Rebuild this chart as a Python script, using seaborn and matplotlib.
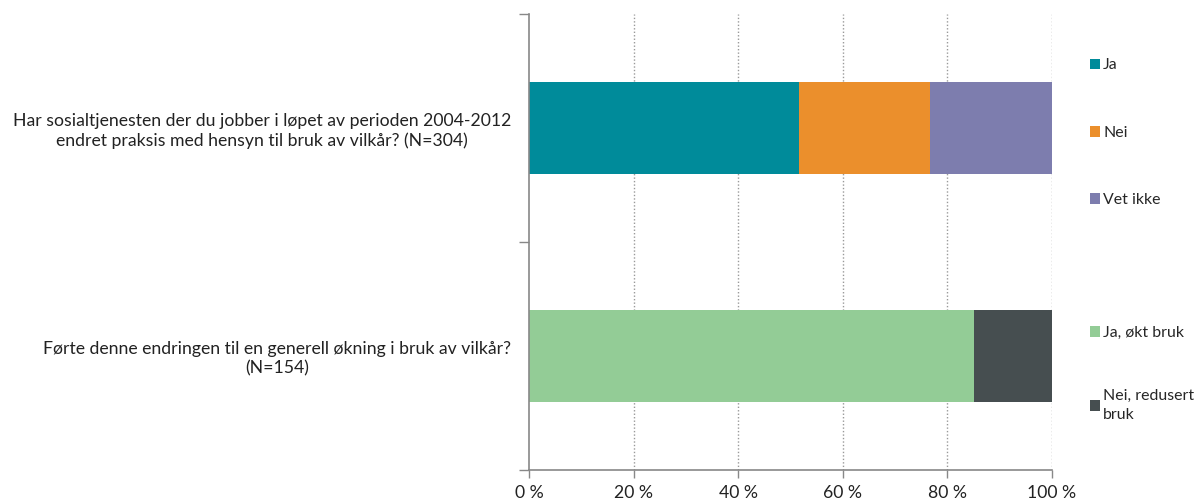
import matplotlib
matplotlib.use("Agg")
import matplotlib.pyplot as plt
import seaborn as sns
import numpy as np
from matplotlib.patches import Patch
from matplotlib.ticker import FixedLocator

questions = [
    "Har sosialtjenesten der du jobber i løpet av perioden 2004-2012\nendret praksis med hensyn til bruk av vilkår? (N=304)",
    "Førte denne endringen til en generell økning i bruk av vilkår?\n(N=154)",
]
q1_series = ["Ja", "Nei", "Vet ikke"]
q1_values = [51.7, 25.0, 23.3]
q1_colors = ["#008B9A", "#EB8F2C", "#7D7DAE"]
q2_series = ["Ja, økt bruk", "Nei, redusert\nbruk"]
q2_values = [85.1, 14.9]
q2_colors = ["#93CC96", "#464E50"]
x_ticks = [0, 20, 40, 60, 80, 100]
x_ticklabels = ["0 %", "20 %", "40 %", "60 %", "80 %", "100 %"]

sns.set_theme(style="white")
plt.rcParams['font.family'] = ['Lato', 'DejaVu Sans']
FS = 12.7
LFS = 11.4

fig = plt.figure(figsize=(11.96, 5.04), dpi=100)
ax = fig.add_axes([0.4423, 0.0675, 0.4373, 0.9047])

def draw_stack(qi, values, colors):
    cum = np.cumsum(values)
    for v, c in reversed(list(zip(cum, colors))):
        sns.barplot(x=[v], y=[questions[qi]], order=questions, color=c,
                    width=0.4, orient="h", ax=ax, saturation=1,
                    edgecolor="none", linewidth=0)

draw_stack(0, q1_values, q1_colors)
draw_stack(1, q2_values, q2_colors)

ax.set_xlim(0, 100)
ax.set_ylim(1.5, -0.5)
ax.set_xlabel("")
ax.set_ylabel("")
ax.set_xticks(x_ticks)
ax.set_xticklabels(x_ticklabels, fontsize=FS, color="#222222")
ax.set_yticks([0, 1])
ax.set_yticklabels(questions, fontsize=FS, color="#222222", multialignment="center",
                   linespacing=1.25)
ax.yaxis.set_minor_locator(FixedLocator([-0.5, 0.5, 1.5]))
ax.tick_params(axis="y", which="major", length=0, pad=13)
ax.tick_params(axis="y", which="minor", length=7, color="#888888", width=1, left=True)
ax.tick_params(axis="x", which="major", length=6, color="#888888", width=1, bottom=True, pad=5)

for x in x_ticks[1:]:
    ax.axvline(x, color="#999999", linestyle=(0, (1, 1.5)), linewidth=1, zorder=0)
ax.set_axisbelow(True)

for s in ["top", "right"]:
    ax.spines[s].set_visible(False)
for s in ["left", "bottom"]:
    ax.spines[s].set_color("#888888")
    ax.spines[s].set_linewidth(1.2)

h1 = [Patch(facecolor=c, edgecolor="none", label=l) for l, c in zip(q1_series, q1_colors)]
h2 = [Patch(facecolor=c, edgecolor="none", label=l) for l, c in zip(q2_series, q2_colors)]
leg1 = fig.legend(handles=h1, loc="upper left", bbox_to_anchor=(0.911, 0.884),
                  frameon=False, fontsize=LFS, handlelength=0.65, handleheight=0.65,
                  handletextpad=0.2, labelspacing=3.37, borderaxespad=0, borderpad=0)
leg2 = fig.legend(handles=h2, loc="upper left", bbox_to_anchor=(0.911, 0.353),
                  frameon=False, fontsize=LFS, handlelength=0.65, handleheight=0.65,
                  handletextpad=0.2, labelspacing=3.1, borderaxespad=0, borderpad=0)
for t in leg2.get_texts():
    t.set_linespacing(1.45)

fig.savefig("out.png", dpi=100)
